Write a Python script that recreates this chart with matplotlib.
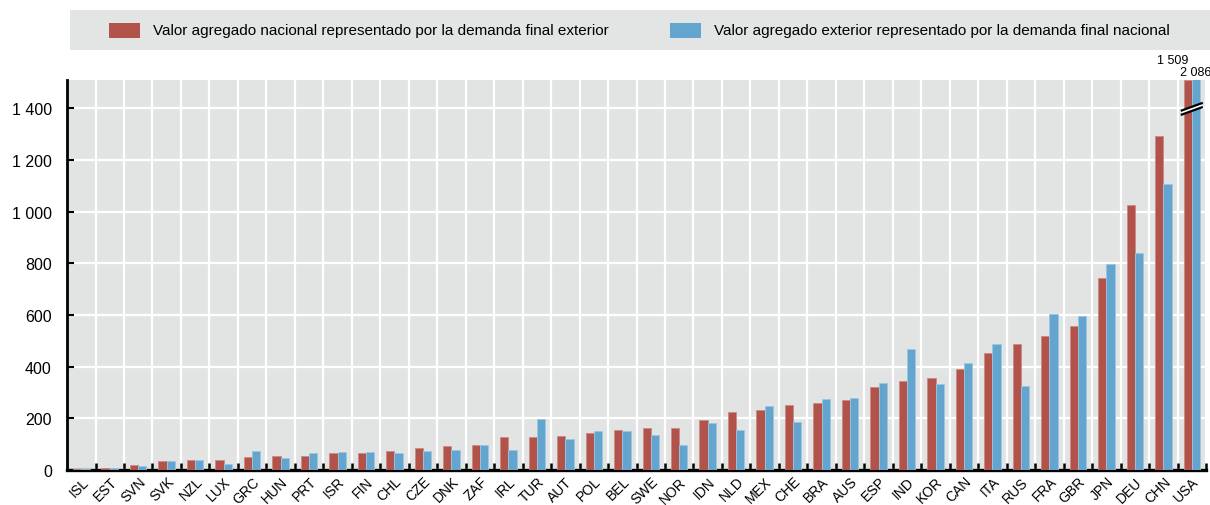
import matplotlib

matplotlib.use("Agg")
import matplotlib.pyplot as plt
import numpy as np
from matplotlib.patches import Polygon, Rectangle
from matplotlib.ticker import FuncFormatter
from matplotlib.transforms import ScaledTranslation, blended_transform_factory

plt.rcParams["font.family"] = ["Liberation Sans", "DejaVu Sans"]

countries = [
    "ISL", "EST", "SVN", "SVK", "NZL", "LUX", "GRC", "HUN", "PRT", "ISR",
    "FIN", "CHL", "CZE", "DNK", "ZAF", "IRL", "TUR", "AUT", "POL", "BEL",
    "SWE", "NOR", "IDN", "NLD", "MEX", "CHE", "BRA", "AUS", "ESP", "IND",
    "KOR", "CAN", "ITA", "RUS", "FRA", "GBR", "JPN", "DEU", "CHN", "USA",
]
# domestic value added embodied in foreign final demand
dva_foreign = [
    4, 8, 18, 36, 39, 39, 49, 54, 55, 66,
    67, 74, 84, 92, 96, 127, 128, 130, 143, 156,
    164, 164, 194, 226, 233, 252, 261, 272, 320, 343,
    357, 392, 453, 489, 519, 557, 744, 1026, 1294, 1509,
]
# foreign value added embodied in domestic final demand
fva_domestic = [
    3, 8, 15, 36, 37, 22, 74, 46, 66, 68,
    70, 66, 75, 76, 95, 77, 197, 119, 150, 152,
    135, 97, 182, 154, 248, 185, 276, 277, 337, 470,
    334, 413, 486, 326, 605, 597, 797, 839, 1107, 2086,
]
yticks = [0, 200, 400, 600, 800, 1000, 1200, 1400]
labels = [
    "Valor agregado nacional representado por la demanda final exterior",
    "Valor agregado exterior representado por la demanda final nacional",
]

RED = "#b1534b"
BLUE = "#64a5d0"
BG = "#e2e3e3"
YMAX = 1511
W = 0.29


def fmt(v):
    return f"{int(v):,}".replace(",", " ")


fig = plt.figure(figsize=(12.1, 5.06), dpi=100)
ax = fig.add_axes([0.0554, 0.0692, 0.9413, 0.7713])
ax.set_facecolor(BG)

x = np.arange(len(countries))
ax.bar(x - W / 2, dva_foreign, W, color=RED, edgecolor="#c98a84", lw=0.6, zorder=3)
ax.bar(x + W / 2, fva_domestic, W, color=BLUE, edgecolor="#9cc6e2", lw=0.6, zorder=3)

ax.set_xlim(-0.5, len(countries) - 0.5)
ax.set_ylim(0, YMAX)

# white grid on category boundaries and every 200
ax.set_xticks(x + 0.5)
ax.set_xticklabels([])
ax.xaxis.grid(True, color="white", lw=1.6, zorder=1)
ax.yaxis.grid(True, color="white", lw=1.6, zorder=1)
ax.set_axisbelow(True)
ax.tick_params(axis="x", direction="in", length=5, width=1.8, color="black")

# rotated country labels under each pair
trans = blended_transform_factory(ax.transData, ax.transAxes) + ScaledTranslation(
    5 / 100, -9 / 100, fig.dpi_scale_trans
)
for xi, c in zip(x, countries):
    ax.text(xi, 0, c, transform=trans, rotation=45, rotation_mode="anchor",
            ha="right", va="center", fontsize=10, clip_on=False)

ax.set_yticks(yticks)
ax.yaxis.set_major_formatter(FuncFormatter(lambda v, p: fmt(v)))
ax.tick_params(axis="y", direction="in", length=5, width=1.5, pad=11, labelsize=11.5)

for s in ("top", "right"):
    ax.spines[s].set_visible(False)
ax.spines["left"].set_linewidth(2)
ax.spines["bottom"].set_linewidth(2.4)

# axis break on the truncated USA bars
i = len(countries) - 1
x0, x1 = i - W - 0.06, i + W + 0.06
ylo, rise, gap = 1376, 28, 16
ax.add_patch(Polygon([(x0, ylo), (x1, ylo + rise), (x1, ylo + rise + gap), (x0, ylo + gap)],
                     closed=True, facecolor="white", edgecolor="none", zorder=5, clip_on=False))
for off in (0, gap):
    ax.plot([x0, x1], [ylo + off, ylo + rise + off], color="black", lw=1.6, zorder=6, clip_on=False)

ax.text(i - W / 2 + 0.02, YMAX + 55, fmt(dva_foreign[i]), ha="right", va="bottom", fontsize=9)
ax.text(i + W / 2, YMAX + 5, fmt(fva_domestic[i]), ha="center", va="bottom", fontsize=9)

# legend panel across the top
fig.patches.append(Rectangle((70 / 1210, 1 - 51 / 506), 1140 / 1210, 40 / 506,
                             transform=fig.transFigure, facecolor="#e3e4e4",
                             edgecolor="none", zorder=0))
for col, lab, px in ((RED, labels[0], 109), (BLUE, labels[1], 670)):
    fig.patches.append(Rectangle((px / 1210, 1 - 39 / 506), 31 / 1210, 15 / 506,
                                 transform=fig.transFigure, facecolor=col, edgecolor="none"))
    fig.text((px + 44) / 1210, 1 - 31.5 / 506, lab, ha="left", va="center", fontsize=11)

fig.savefig("out.png", dpi=100, facecolor="white")
